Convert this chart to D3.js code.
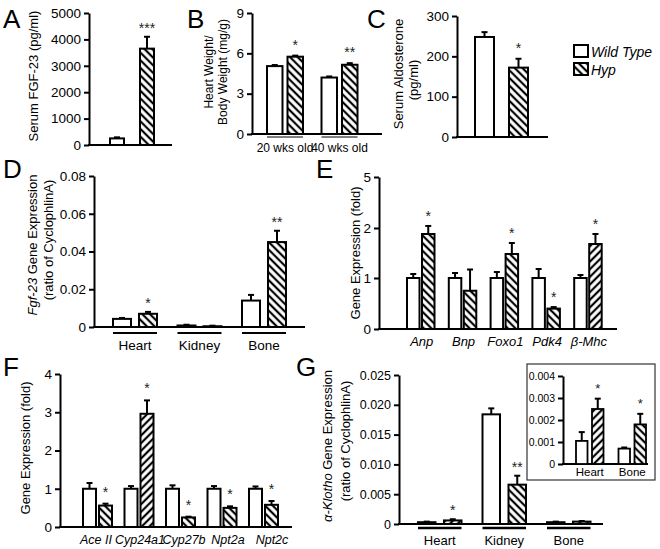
<!DOCTYPE html>
<html><head><meta charset="utf-8">
<script src="https://cdn.jsdelivr.net/npm/d3@7"></script>
<style>body{margin:0;background:#fff}</style>
</head><body><svg id="c" width="660" height="549"></svg>
<script>
// ---------- DATA ----------
const seriesNames = ["Wild Type", "Hyp"];

// Panel A: Serum FGF-23 (pg/ml)
const aMean = [250, 3650];
const aErr = [40, 450];
const aSig = ["", "***"];
const aTicks = [0, 1000, 2000, 3000, 4000, 5000];
const aTickLabels = ["0", "1000", "2000", "3000", "4000", "5000"];

// Panel B: Heart weight / body weight (mg/g)
const bGroups = ["20 wks old", "40 wks old"];
const bWT = [5.05, 4.2];
const bWTerr = [0.08, 0.08];
const bHyp = [5.75, 5.15];
const bHypErr = [0.08, 0.12];
const bSig = ["*", "**"];
const bTicks = [0, 3, 6, 9];
const bTickLabels = ["0", "3", "6", "9"];

// Panel C: Serum aldosterone (pg/ml)
const cMean = [248, 172];
const cErr = [12, 22];
const cSig = ["", "*"];
const cTicks = [0, 100, 200, 300];
const cTickLabels = ["0", "100", "200", "300"];

// Panel D: Fgf-23 gene expression
const dGroups = ["Heart", "Kidney", "Bone"];
const dWT = [0.0043, 0.0008, 0.014];
const dWTerr = [0.0005, 0.0004, 0.003];
const dHyp = [0.007, 0.0004, 0.045];
const dHypErr = [0.001, 0.0003, 0.006];
const dSig = ["*", "", "**"];
const dTicks = [0, 0.02, 0.04, 0.06, 0.08];
const dTickLabels = ["0", "0.02", "0.04", "0.06", "0.08"];

// Panel E: cardiac gene expression (fold)
const eGroups = ["Anp", "Bnp", "Foxo1", "Pdk4", "β-Mhc"];
const eWT = [1, 1, 1, 1, 1];
const eWTerr = [0.08, 0.1, 0.12, 0.18, 0.06];
const eHyp = [1.88, 0.75, 1.48, 0.4, 1.68];
const eHypErr = [0.24, 0.42, 0.22, 0.03, 0.2];
const eSig = ["*", "", "*", "*", "*"];
const eTicks = [0, 1, 2, 5];
const eTickLabels = ["0", "1", "2", "5"];

// Panel F: renal gene expression (fold)
const fGroups = ["Ace II", "Cyp24a1", "Cyp27b", "Npt2a", "Npt2c"];
const fWT = [1, 1, 1, 1, 1];
const fWTerr = [0.15, 0.07, 0.09, 0.07, 0.06];
const fHyp = [0.56, 2.96, 0.25, 0.5, 0.58];
const fHypErr = [0.05, 0.35, 0.02, 0.04, 0.1];
const fSig = ["*", "*", "*", "*", "*"];
const fTicks = [0, 1, 2, 3, 4];
const fTickLabels = ["0", "1", "2", "3", "4"];

// Panel G: alpha-Klotho gene expression
const gGroups = ["Heart", "Kidney", "Bone"];
const gWT = [0.0003, 0.0184, 0.0003];
const gWTerr = [0.0001, 0.001, 0.0001];
const gHyp = [0.0006, 0.0066, 0.0004];
const gHypErr = [0.0002, 0.0015, 0.0001];
const gSig = ["*", "**", ""];
const gTicks = [0, 0.005, 0.010, 0.015, 0.020, 0.025];
const gTickLabels = ["0", "0.005", "0.010", "0.015", "0.020", "0.025"];

// Panel G inset
const giGroups = ["Heart", "Bone"];
const giWT = [0.00105, 0.0007];
const giWTerr = [0.0004, 0.00005];
const giHyp = [0.0025, 0.0018];
const giHypErr = [0.00047, 0.00048];
const giSig = ["*", "*"];
const giTicks = [0, 0.001, 0.002, 0.003, 0.004];
const giTickLabels = ["0", "0.001", "0.002", "0.003", "0.004"];

// ---------- DRAWING ----------
const FONT = "Arial, 'Liberation Sans', Helvetica, sans-serif";
const svg = d3.select("#c");
svg.append("rect").attr("width", 660).attr("height", 549).attr("fill", "#fff");
const defs = svg.append("defs");
function makeHatch(id, angle) {
  const s = 5.4;
  const p = defs.append("pattern").attr("id", id).attr("patternUnits", "userSpaceOnUse")
    .attr("width", s).attr("height", s).attr("patternTransform", `rotate(${angle})`);
  p.append("rect").attr("width", s).attr("height", s).attr("fill", "#fff");
  p.append("line").attr("x1", s / 2).attr("x2", s / 2).attr("y1", 0).attr("y2", s)
    .attr("stroke", "#000").attr("stroke-width", 2.2);
}
makeHatch("hb", -45); // "\\" direction
makeHatch("hf", 45);  // "/" direction

function panel(o) {
  const g = svg.append("g");
  const ax = g.append("g").attr("transform", `translate(${o.axisX},0)`)
    .call(d3.axisLeft(o.y).tickValues(o.ticks).tickFormat((d, i) => o.tickLabels[i])
      .tickSize(5).tickSizeOuter(0).tickPadding(3));
  ax.select(".domain").attr("stroke-width", 2).attr("stroke", "#000");
  ax.selectAll(".tick line").attr("stroke-width", 2).attr("stroke", "#000");
  ax.selectAll(".tick text").attr("font-size", o.tickFont).attr("font-family", FONT).attr("fill", "#000");
  g.append("line").attr("x1", o.axisX - 1).attr("x2", o.axisEnd)
    .attr("y1", o.y(0)).attr("y2", o.y(0)).attr("stroke", "#000").attr("stroke-width", 2);

  const n = o.groups.length, gw = o.innerStep + o.bw;
  const pi = n > 1 ? 1 - gw / o.groupStep : 0;
  const x0 = d3.scaleBand().domain(o.groups)
    .range([o.firstLeft, o.firstLeft + (n > 1 ? o.groupStep * (n - pi) : gw)]).paddingInner(pi);
  const x1 = d3.scaleBand().domain(seriesNames).range([0, gw]).paddingInner(1 - o.bw / o.innerStep);

  const rows = [];
  o.groups.forEach((grp, i) => {
    rows.push({ grp, s: seriesNames[0], v: o.wt[i], e: o.wtErr[i], sig: "", fill: "#fff" });
    rows.push({ grp, s: seriesNames[1], v: o.hyp[i], e: o.hypErr[i], sig: o.sig[i], fill: `url(#${o.hatch[i]})` });
  });
  const cx = d => x0(d.grp) + x1(d.s) + x1.bandwidth() / 2;
  // error bars
  g.selectAll(".eb").data(rows).join("line").attr("class", "eb")
    .attr("x1", cx).attr("x2", cx).attr("y1", d => o.y(d.v)).attr("y2", d => o.y(d.v + d.e))
    .attr("stroke", "#000").attr("stroke-width", 2);
  g.selectAll(".ec").data(rows).join("line").attr("class", "ec")
    .attr("x1", d => cx(d) - 3).attr("x2", d => cx(d) + 3)
    .attr("y1", d => o.y(d.v + d.e)).attr("y2", d => o.y(d.v + d.e))
    .attr("stroke", "#000").attr("stroke-width", 2);
  // bars
  g.selectAll(".bar").data(rows).join("rect").attr("class", "bar")
    .attr("x", d => x0(d.grp) + x1(d.s)).attr("width", x1.bandwidth())
    .attr("y", d => o.y(d.v)).attr("height", d => Math.max(0.5, o.y(0) - o.y(d.v)))
    .attr("fill", d => d.fill).attr("stroke", "#000").attr("stroke-width", o.barStroke || 2);
  // significance stars
  g.selectAll(".sig").data(rows.filter(d => d.sig)).join("text").attr("class", "sig")
    .attr("x", cx).attr("y", d => o.y(d.v + d.e) - o.starOff + 8)
    .attr("text-anchor", "middle").attr("font-size", o.starFont || 14).attr("font-family", FONT)
    .attr("fill", "#222").text(d => d.sig);
  // underlines
  if (o.underline) {
    g.selectAll(".ul").data(o.groups).join("line").attr("class", "ul")
      .attr("x1", d => x0(d)).attr("x2", d => x0(d) + gw)
      .attr("y1", o.y(0) + o.underline).attr("y2", o.y(0) + o.underline)
      .attr("stroke", "#000").attr("stroke-width", o.ulWidth || 2);
  }
  if (o.showLabels !== false) {
    const lx = o.labelRange
      ? d3.scalePoint().domain(o.groups).range(o.labelRange)
      : (d => x0(d) + gw / 2 + (o.labelShift || 0));
    g.selectAll(".gl").data(o.groups).join("text").attr("class", "gl")
      .attr("x", d => lx(d)).attr("y", o.labelY)
      .attr("text-anchor", "middle").attr("font-size", o.labelFont).attr("font-family", FONT)
      .attr("font-style", o.labelItalic ? "italic" : "normal").attr("fill", "#000").text(d => d);
  }
}

function yLabel(x, cy, parts, size) {
  const t = svg.append("text").attr("transform", `translate(${x},${cy}) rotate(-90)`)
    .attr("text-anchor", "middle").attr("font-size", size).attr("font-family", FONT).attr("fill", "#000");
  parts.forEach(p => t.append("tspan").text(p[0]).attr("font-style", p[1] ? "italic" : "normal"));
}
function letter(t, x, y) {
  svg.append("text").attr("x", x).attr("y", y).attr("font-size", 26).attr("font-family", FONT).attr("fill", "#000").text(t);
}

// A
panel({
  y: d3.scaleLinear().domain([0, 5000]).range([145, 13]), ticks: aTicks, tickLabels: aTickLabels, tickFont: 13.5,
  axisX: 89, axisEnd: 172, groups: [""], wt: [aMean[0]], wtErr: [aErr[0]], hyp: [aMean[1]], hypErr: [aErr[1]], sig: [aSig[1]],
  hatch: ["hb"], firstLeft: 110, bw: 14, innerStep: 30, groupStep: 44, starOff: 12, showLabels: false
});
yLabel(38, 76, [["Serum FGF-23 (pg/ml)", false]], 13);
letter("A", 3, 28);

// B
panel({
  y: d3.scaleLinear().domain([0, 9]).range([134, 13]), ticks: bTicks, tickLabels: bTickLabels, tickFont: 13.5,
  axisX: 252, axisEnd: 382, groups: bGroups, wt: bWT, wtErr: bWTerr, hyp: bHyp, hypErr: bHypErr, sig: bSig,
  hatch: ["hb", "hb"], firstLeft: 267, bw: 15.5, innerStep: 20.5, groupStep: 54.5, starOff: 14,
  underline: 3, ulWidth: 1.2, labelY: 152, labelFont: 12
});
yLabel(213, 72, [["Heart Weight/", false]], 12);
yLabel(227, 72, [["Body Weight (mg/g)", false]], 12);
letter("B", 187, 28);

// C
panel({
  y: d3.scaleLinear().domain([0, 300]).range([137, 16]), ticks: cTicks, tickLabels: cTickLabels, tickFont: 13.5,
  axisX: 457, axisEnd: 548, groups: [""], wt: [cMean[0]], wtErr: [cErr[0]], hyp: [cMean[1]], hypErr: [cErr[1]], sig: [cSig[1]],
  hatch: ["hb"], firstLeft: 475, bw: 19, innerStep: 34, groupStep: 53, starOff: 14, showLabels: false
});
yLabel(403, 74, [["Serum Aldosterone", false]], 13);
yLabel(418, 80, [["(pg/ml)", false]], 13);
letter("C", 367, 28);

// Legend
const legend = svg.append("g");
seriesNames.forEach((s, i) => {
  legend.append("rect").attr("x", 574).attr("y", 45 + i * 18).attr("width", 14).attr("height", 12)
    .attr("fill", i === 0 ? "#fff" : "url(#hb)").attr("stroke", "#000").attr("stroke-width", 2);
  legend.append("text").attr("x", 591).attr("y", 57 + i * 18).attr("font-size", 14).attr("font-style", "italic")
    .attr("font-family", FONT).attr("fill", "#000").text(s);
});

// D
panel({
  y: d3.scaleLinear().domain([0, 0.08]).range([327, 176]), ticks: dTicks, tickLabels: dTickLabels, tickFont: 13.5,
  axisX: 94, axisEnd: 305, groups: dGroups, wt: dWT, wtErr: dWTerr, hyp: dHyp, hypErr: dHypErr, sig: dSig,
  hatch: ["hb", "hb", "hb"], firstLeft: 113, bw: 18, innerStep: 26, groupStep: 64.5, starOff: 12,
  underline: 6, ulWidth: 2, labelY: 350, labelFont: 13.5
});
yLabel(37, 245, [["Fgf-23", true], [" Gene Expression", false]], 13);
yLabel(53, 240, [["(ratio of CyclophlinA)", false]], 13);
letter("D", 3, 178);

// E (broken-style piecewise axis)
panel({
  y: d3.scaleLinear().domain([0, 1, 2, 5]).range([329, 278, 228, 177]), ticks: eTicks, tickLabels: eTickLabels, tickFont: 13.5,
  axisX: 379, axisEnd: 617, groups: eGroups, wt: eWT, wtErr: eWTerr, hyp: eHyp, hypErr: eHypErr, sig: eSig,
  hatch: ["hb", "hb", "hb", "hb", "hf"], firstLeft: 407, bw: 12.5, innerStep: 15, groupStep: 41.8, starOff: 13,
  labelY: 346, labelFont: 13, labelItalic: true, labelShift: 1
});
yLabel(360, 253, [["Gene Expression (fold)", false]], 13);
letter("E", 316, 178);

// F
panel({
  y: d3.scaleLinear().domain([0, 4]).range([527, 374]), ticks: fTicks, tickLabels: fTickLabels, tickFont: 13.5,
  axisX: 60, axisEnd: 292, groups: fGroups, wt: fWT, wtErr: fWTerr, hyp: fHyp, hypErr: fHypErr, sig: fSig,
  hatch: ["hb", "hf", "hb", "hb", "hb"], firstLeft: 83, bw: 13, innerStep: 16, groupStep: 41.5, starOff: 15,
  labelY: 544, labelFont: 12.5, labelItalic: true, labelRange: [96, 272]
});
yLabel(30, 448, [["Gene Expression (fold)", false]], 13);
letter("F", 3, 376);

// G
panel({
  y: d3.scaleLinear().domain([0, 0.025]).range([524, 375]), ticks: gTicks, tickLabels: gTickLabels, tickFont: 12.5,
  axisX: 399, axisEnd: 603, groups: gGroups, wt: gWT, wtErr: gWTerr, hyp: gHyp, hypErr: gHypErr, sig: gSig,
  hatch: ["hf", "hb", "hb"], firstLeft: 418, bw: 17.5, innerStep: 26, groupStep: 64.5, starOff: 12,
  underline: 4, ulWidth: 2.5, labelY: 545, labelFont: 13
});
yLabel(332, 446, [["α-Klotho", true], [" Gene Expression", false]], 13);
yLabel(350, 441, [["(ratio of CyclophlinA)", false]], 13);
letter("G", 296, 376);

// G inset
svg.append("rect").attr("x", 527).attr("y", 364).attr("width", 128).attr("height", 116)
  .attr("fill", "#fff").attr("stroke", "#333").attr("stroke-width", 1.2);
panel({
  y: d3.scaleLinear().domain([0, 0.004]).range([464, 376]), ticks: giTicks, tickLabels: giTickLabels, tickFont: 10.5,
  axisX: 563, axisEnd: 648, groups: giGroups, wt: giWT, wtErr: giWTerr, hyp: giHyp, hypErr: giHypErr, sig: giSig,
  hatch: ["hf", "hb"], firstLeft: 576, bw: 11.5, innerStep: 16, groupStep: 42.5, starOff: 14, starFont: 13,
  barStroke: 1.8, labelY: 476, labelFont: 11.5
});
</script>
</body></html>
